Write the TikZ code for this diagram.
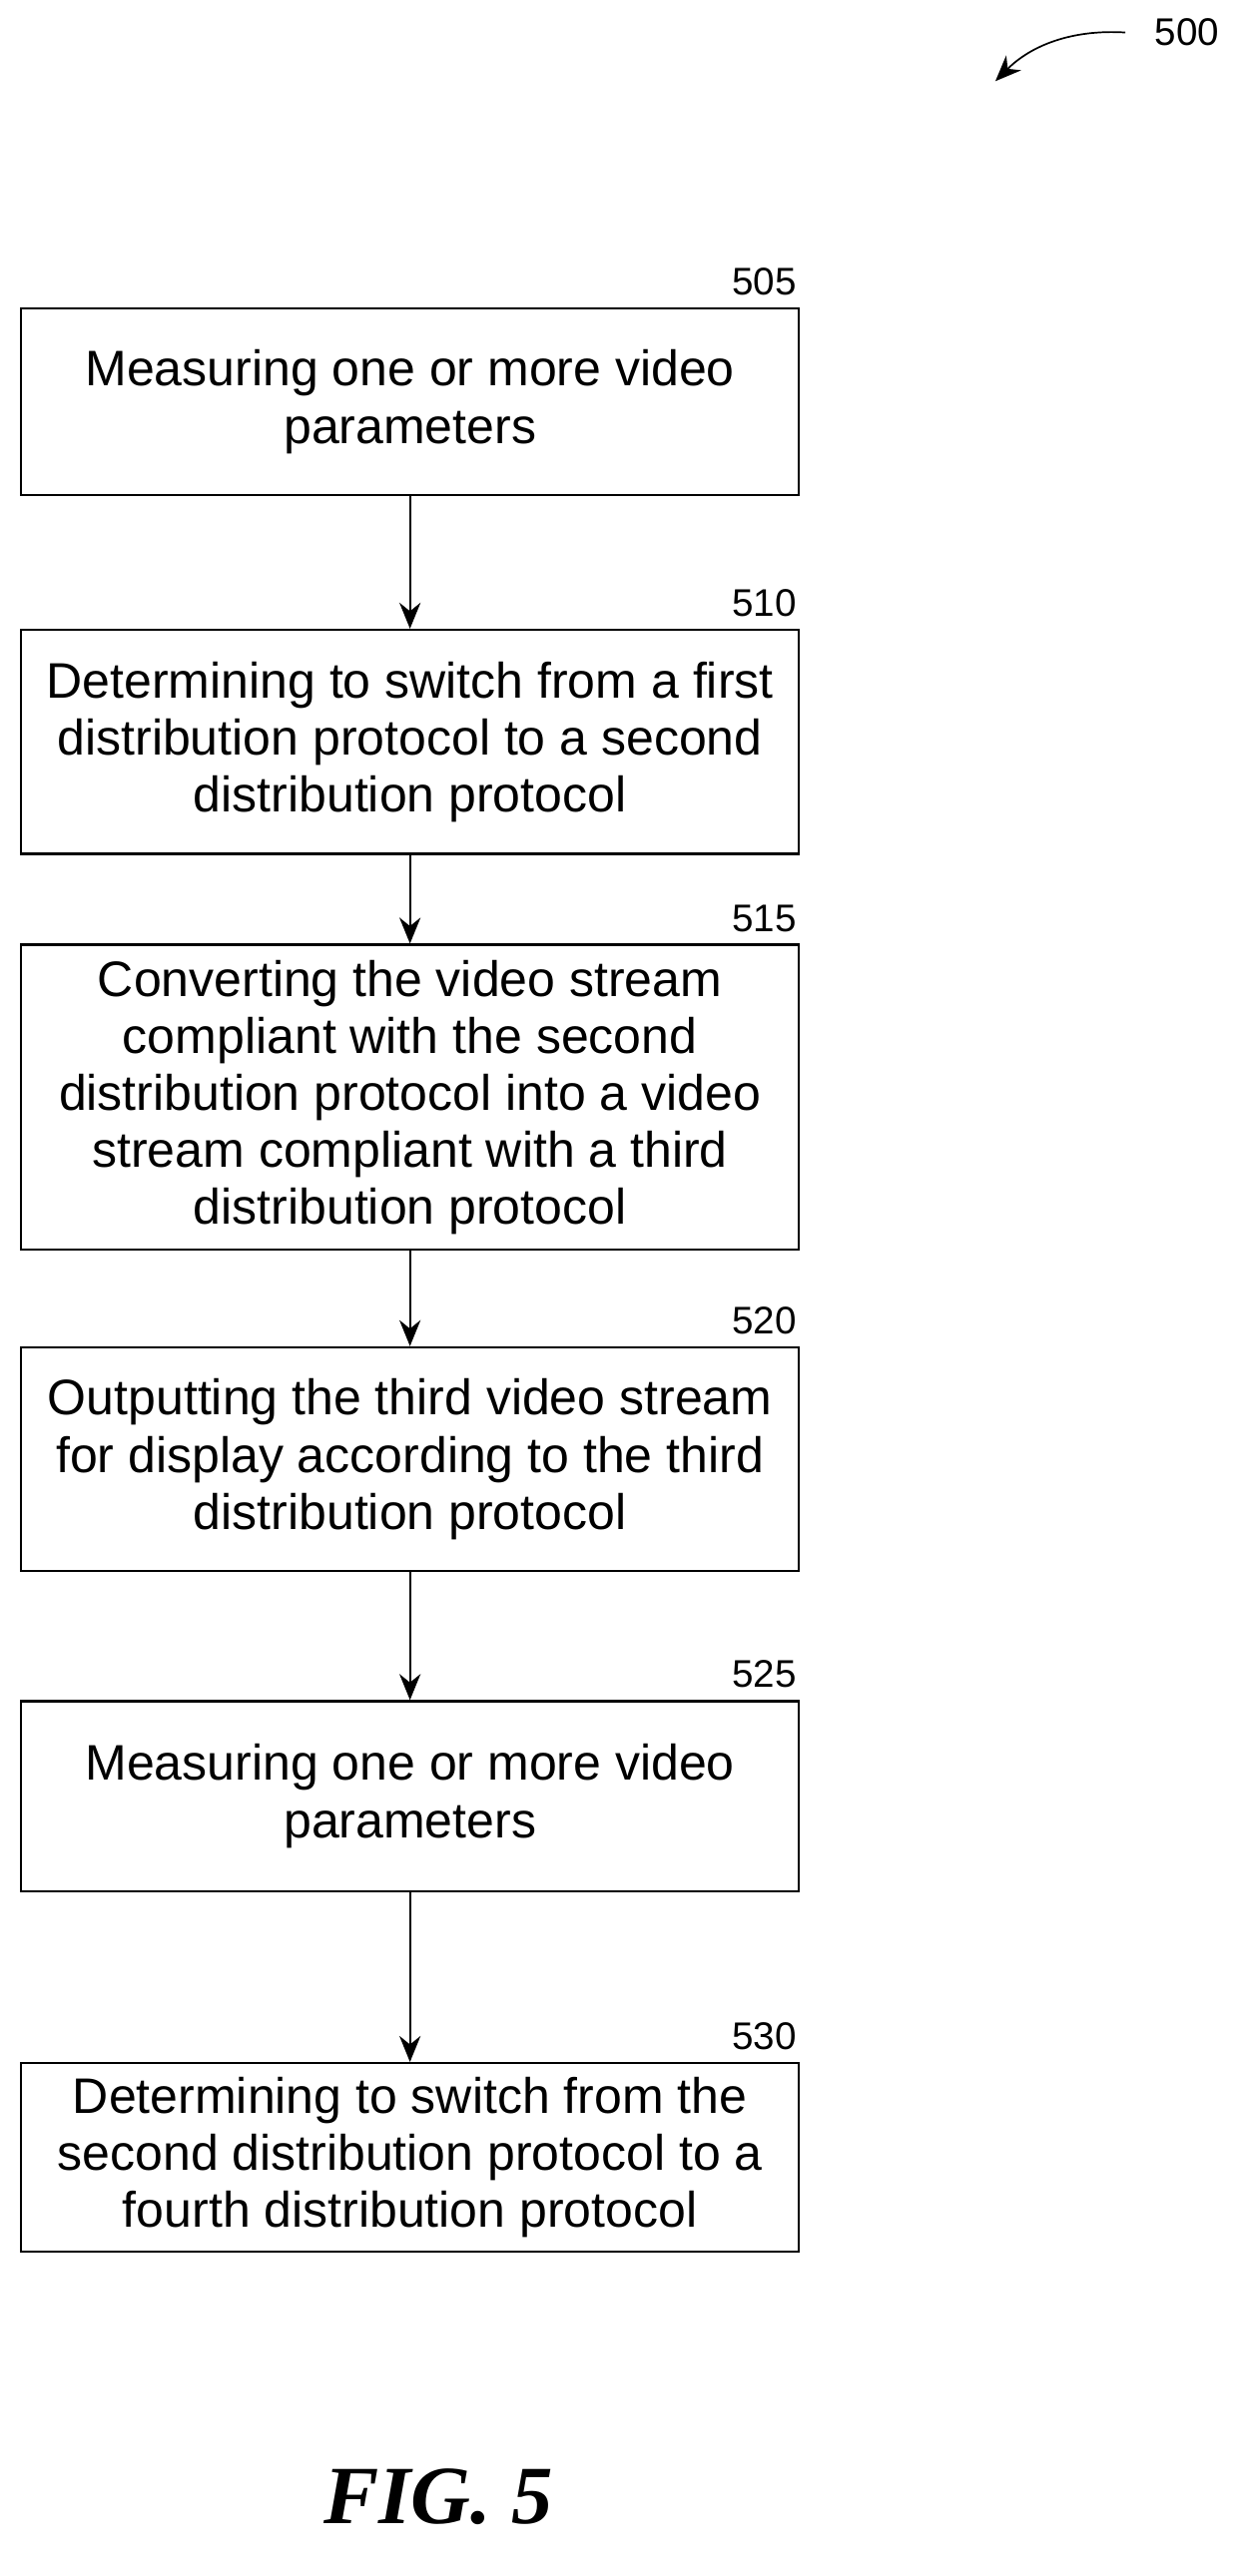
\documentclass[tikz,border=0pt]{standalone}
\usepackage{fontspec}
\setmainfont{Liberation Sans}
\newfontfamily\figfont{Liberation Serif}
\usetikzlibrary{arrows.meta, positioning}
\begin{document}
\begin{tikzpicture}[x=0.02cm, y=-0.02cm,
  stepbox/.style={rectangle, draw, line width=0.8pt, minimum width=9.58cm, align=center, font=\fontsize{17.5}{20}\selectfont, inner sep=2pt},
  ref/.style={anchor=south east, font=\fontsize{13.5}{15}\selectfont, inner sep=1pt, yshift=3pt},
  arrow/.style={-{Stealth[length=3.2mm, width=2.6mm]}, line width=0.8pt}
]
  \useasboundingbox (0,0) rectangle (770,1587);

  % Steps
  \node[stepbox, minimum height=2.3cm] (s505) at (252.5,247.5) {Measuring one or more video\\parameters};
  \node[stepbox, minimum height=2.76cm] (s510) at (252.5,457) {Determining to switch from a first\\distribution protocol to a second\\distribution protocol};
  \node[stepbox, minimum height=3.76cm] (s515) at (252.5,676) {Converting the video stream\\compliant with the second\\distribution protocol into a video\\stream compliant with a third\\distribution protocol};
  \node[stepbox, minimum height=2.76cm] (s520) at (252.5,899) {Outputting the third video stream\\for display according to the third\\distribution protocol};
  \node[stepbox, minimum height=2.34cm] (s525) at (252.5,1106.5) {Measuring one or more video\\parameters};
  \node[stepbox, minimum height=2.32cm] (s530) at (252.5,1329) {Determining to switch from the\\second distribution protocol to a\\fourth distribution protocol};

  % Reference numerals
  \foreach \n in {505,510,515,520,525,530}
    \node[ref] at (s\n.north east) {\n};

  % Flow
  \draw[arrow] (s505) -- (s510);
  \draw[arrow] (s510) -- (s515);
  \draw[arrow] (s515) -- (s520);
  \draw[arrow] (s520) -- (s525);
  \draw[arrow] (s525) -- (s530);

  % Figure number
  \node[font=\fontsize{13.5}{15}\selectfont, anchor=west] (n500) at (705,20) {500};
  \coordinate (tip) at (613,50);
  \draw[arrow, line width=0.6pt] (n500.west) ++(-12,0) .. controls (660,18) and (635,28) .. (tip);
  \node[font=\figfont\bfseries\itshape\fontsize{29}{34}\selectfont] (fig) at (270,1538) {FIG. 5};
\end{tikzpicture}
\end{document}
